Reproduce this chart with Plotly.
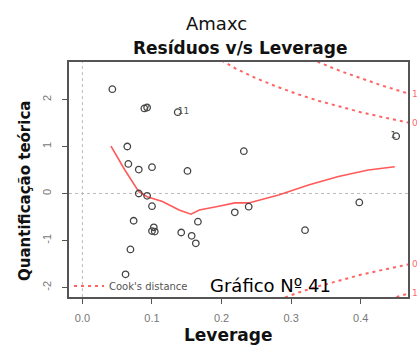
import plotly.graph_objects as go

# Leverage vs standardized residuals
lev = [0.043, 0.089, 0.093, 0.137, 0.0645, 0.066, 0.081, 0.100, 0.151, 0.081,
       0.093, 0.100, 0.0736, 0.1026, 0.100, 0.104, 0.142, 0.157, 0.163, 0.166,
       0.069, 0.062, 0.219, 0.239, 0.320, 0.398, 0.232, 0.451]
res = [2.22, 1.81, 1.83, 1.73, 1.00, 0.63, 0.51, 0.56, 0.48, 0.00,
       -0.05, -0.27, -0.58, -0.72, -0.80, -0.81, -0.83, -0.90, -1.06, -0.60,
       -1.19, -1.72, -0.40, -0.28, -0.78, -0.19, 0.90, 1.22]

# smoother
smooth_x = [0.041, 0.061, 0.081, 0.093, 0.115, 0.139, 0.156, 0.168, 0.196, 0.219,
            0.239, 0.282, 0.325, 0.368, 0.411, 0.449]
smooth_y = [1.01, 0.50, 0.04, -0.07, -0.17, -0.35, -0.44, -0.35, -0.27, -0.20,
            -0.20, -0.03, 0.18, 0.36, 0.50, 0.57]

# Cook's distance contours (0.5 and 1)
cook05_x = [0.20, 0.22, 0.25, 0.28, 0.31, 0.34, 0.37, 0.40, 0.43, 0.47, 0.50]
cook05_y = [2.83, 2.66, 2.45, 2.27, 2.11, 1.97, 1.85, 1.73, 1.63, 1.50, 1.41]
cook1_x = [0.31, 0.33, 0.35, 0.37, 0.40, 0.43, 0.47, 0.50]
cook1_y = [2.98, 2.85, 2.73, 2.61, 2.45, 2.30, 2.12, 2.00]
cook_levels = ["0.5", "1"]

# labelled points
lab_x = [0.137, 0.089, 0.451]
lab_y = [1.73, 1.81, 1.22]
lab_t = ["11", "2", "1"]
lab_pos = ["middle right", "middle right", "middle left"]

xticks = [0.0, 0.1, 0.2, 0.3, 0.4]
xtick_text = ["0.0", "0.1", "0.2", "0.3", "0.4"]
yticks = [-2, -1, 0, 1, 2]
ytick_text = ["-2", "-1", "0", "1", "2"]

RED = "rgba(255,60,60,0.8)"
FONT = "Liberation Sans, Arial, sans-serif"
DJ = "DejaVu Sans"

fig = go.Figure()

for sgn, show in [(1, True), (-1, False)]:
    fig.add_trace(go.Scatter(x=cook05_x, y=[sgn * v for v in cook05_y], mode="lines",
                             line=dict(color=RED, width=2, dash="3px,4px"),
                             name="Cook's distance", showlegend=show, hoverinfo="skip"))
    fig.add_trace(go.Scatter(x=cook1_x, y=[sgn * v for v in cook1_y], mode="lines",
                             line=dict(color=RED, width=2, dash="3px,4px"),
                             showlegend=False, hoverinfo="skip"))

fig.add_trace(go.Scatter(x=smooth_x, y=smooth_y, mode="lines",
                         line=dict(color="rgba(255,60,60,0.85)", width=1.6),
                         showlegend=False))

fig.add_trace(go.Scatter(x=lev, y=res, mode="markers",
                         marker=dict(symbol="circle-open", size=6.5, color="#444",
                                     line=dict(color="#444", width=1.3)),
                         showlegend=False))

fig.add_trace(go.Scatter(x=lab_x, y=lab_y, mode="text", text=lab_t,
                         textposition=lab_pos,
                         textfont=dict(size=9, color="#555", family=DJ),
                         showlegend=False))

annots = [
    dict(text="Amaxc", xref="paper", yref="paper", x=(217 - 69) / 341, y=1,
         yshift=39, xanchor="center", yanchor="middle", showarrow=False,
         font=dict(size=18, color="#111", family=DJ)),
    dict(text="<b>Resíduos v/s Leverage</b>", xref="paper", yref="paper",
         x=(241 - 69) / 341, y=1, yshift=14, xanchor="center", yanchor="middle",
         showarrow=False, font=dict(size=17, color="#111", family=DJ)),
    dict(text="Gráfico Nº 41", xref="paper", yref="paper",
         x=(272 - 69) / 341, y=(297 - 285) / 235, xanchor="center",
         yanchor="middle", showarrow=False, font=dict(size=18, color="#000", family=DJ)),
    dict(text="<b>Leverage</b>", xref="paper", yref="paper",
         x=(229 - 69) / 341, y=0, yshift=-38, xanchor="center", yanchor="middle",
         showarrow=False, font=dict(size=17, color="#111", family=DJ)),
    dict(text="<b>Quantificação teórica</b>", xref="paper", yref="paper",
         x=0, xshift=-44, y=(297 - 191) / 235, textangle=-90, xanchor="center",
         yanchor="middle", showarrow=False, font=dict(size=15, color="#111", family=DJ)),
]
for lvl, yv in zip(cook_levels, [cook05_y[-2], cook1_y[-2]]):
    for sgn in (1, -1):
        annots.append(dict(text=lvl, xref="paper", yref="y", x=1, xshift=2,
                           y=sgn * yv, xanchor="left", yanchor="middle",
                           showarrow=False, font=dict(size=9, color=RED, family=DJ)))

fig.update_layout(
    width=417, height=349,
    margin=dict(l=69, r=7, t=62, b=52),
    paper_bgcolor="white", plot_bgcolor="white",
    font=dict(family=FONT),
    legend=dict(x=0.0, y=-0.015, xanchor="left", yanchor="bottom",
                bgcolor="rgba(0,0,0,0)", font=dict(size=10, color="#555", family=DJ),
                itemwidth=30, tracegroupgap=0),
    shapes=[
        dict(type="line", xref="paper", yref="y", x0=0, x1=1, y0=0, y1=0,
             line=dict(color="#bbb", width=1, dash="dot"), layer="below"),
        dict(type="line", xref="x", yref="paper", x0=0, x1=0, y0=0, y1=1,
             line=dict(color="#bbb", width=1, dash="dot"), layer="below"),
    ],
    annotations=annots,
)

fig.update_xaxes(range=[-0.0193, 0.468], tickvals=xticks, ticktext=xtick_text,
                 showgrid=False, zeroline=False, showline=True, mirror=True,
                 linecolor="#555", linewidth=2, ticks="outside", ticklen=5,
                 tickcolor="#555", tickfont=dict(size=11, color="#777", family=FONT),
                 ticklabelstandoff=5)
fig.update_yaxes(range=[-2.202, 2.798], tickvals=yticks, ticktext=ytick_text,
                 showgrid=False, zeroline=False, showline=True, mirror=True,
                 linecolor="#555", linewidth=2, ticks="outside", ticklen=5,
                 tickcolor="#555", tickfont=dict(size=11, color="#777", family=FONT),
                 tickangle=-90, ticklabelstandoff=7)

fig.write_html("out.html")
